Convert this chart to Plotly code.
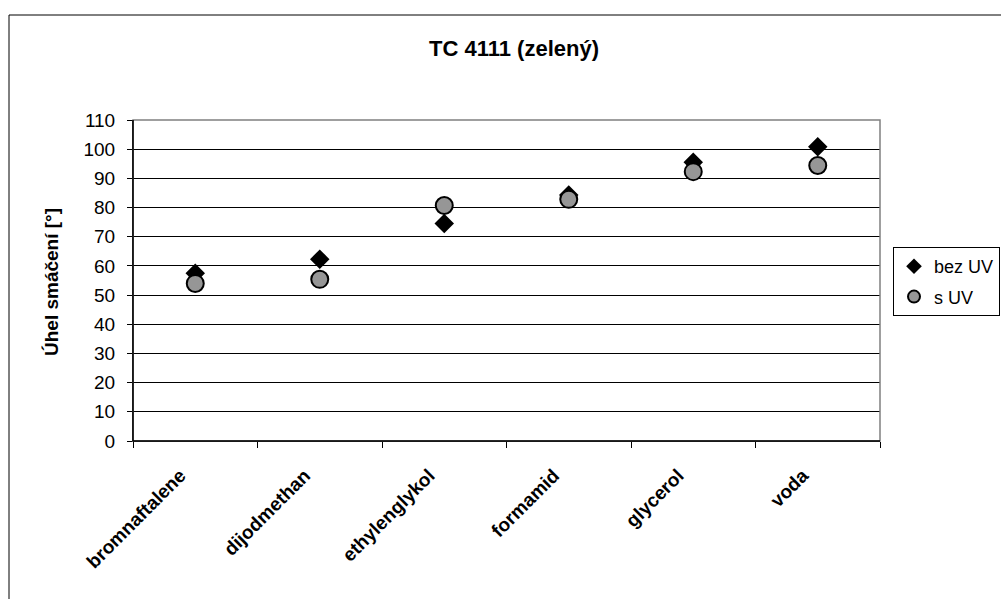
import plotly.graph_objects as go

categories = ["bromnaftalene", "dijodmethan", "ethylenglykol", "formamid", "glycerol", "voda"]
bez_uv = [57.5, 62.3, 74.5, 84.3, 95.5, 100.8]
s_uv = [54.0, 55.4, 80.7, 82.8, 92.3, 94.4]
y_ticks = list(range(0, 111, 10))

W, H = 1001, 599
ML, MR, MT, MB = 133, 121, 120, 158
PW, PH = W - ML - MR, H - MT - MB
FONT = "Liberation Sans, Arial, sans-serif"

def px_x(p):
    return (p - ML) / PW

def px_y(p):
    return (H - MB - p) / PH

fig = go.Figure()
fig.add_trace(go.Scatter(
    x=categories, y=bez_uv, mode="markers", name="bez UV", legendgroup="a",
    marker=dict(symbol="diamond", size=15, color="black", line=dict(width=0)),
))
fig.add_trace(go.Scatter(
    x=categories, y=s_uv, mode="markers", name="s UV", legendgroup="b",
    marker=dict(symbol="circle", size=17, color="#969696", line=dict(width=2, color="black")),
))

fig.update_layout(
    width=W, height=H,
    margin=dict(l=ML, r=MR, t=MT, b=MB, autoexpand=False),
    paper_bgcolor="white", plot_bgcolor="white",
    font=dict(family=FONT, size=18, color="black"),
    title=dict(text="<b>TC 4111 (zelený)</b>", x=514 / W, xanchor="center",
               y=1 - 48 / H, yanchor="middle", font=dict(size=22)),
    showlegend=True,
    legend=dict(
        x=px_x(893), y=px_y(247), xanchor="left", yanchor="top",
        bordercolor="black", borderwidth=1, bgcolor="white",
        font=dict(size=18), tracegroupgap=4, itemsizing="constant",
    ),
    xaxis=dict(
        type="category", tickson="boundaries", ticks="outside", ticklen=6,
        tickcolor="black", showline=True, linecolor="black", linewidth=1,
        mirror=False, showgrid=False, tickangle=-45,
        tickfont=dict(size=19, family=FONT),
        tickprefix="<b>", ticksuffix="</b>&nbsp;&nbsp;&nbsp;&nbsp;",
        range=[-0.5, 5.5],
    ),
    yaxis=dict(
        range=[0, 110], tickvals=y_ticks, ticks="outside", ticklen=5,
        tickcolor="black", showline=True, linecolor="black", linewidth=1,
        showgrid=True, gridcolor="black", gridwidth=1, zeroline=False,
        tickfont=dict(size=19), ticklabelstandoff=8,
    ),
    annotations=[
        dict(text="<b>Úhel smáčení [°]</b>", xref="paper", yref="paper",
             x=px_x(51), y=px_y(282), xanchor="center", yanchor="middle",
             textangle=-90, showarrow=False, font=dict(size=19)),
    ],
    shapes=[
        dict(type="rect", xref="paper", yref="paper", x0=0, x1=1, y0=0, y1=1,
             line=dict(color="#808080", width=1.5), layer="above"),
        dict(type="line", xref="paper", yref="paper", x0=0, x1=0, y0=0, y1=1,
             line=dict(color="black", width=1.5), layer="above"),
        dict(type="line", xref="paper", yref="paper", x0=0, x1=1, y0=0, y1=0,
             line=dict(color="black", width=1.5), layer="above"),
        dict(type="rect", xref="paper", yref="paper",
             x0=px_x(9), x1=px_x(1010), y0=px_y(15), y1=px_y(620),
             line=dict(color="black", width=1), layer="below"),
    ],
)

fig.write_html("out.html")
